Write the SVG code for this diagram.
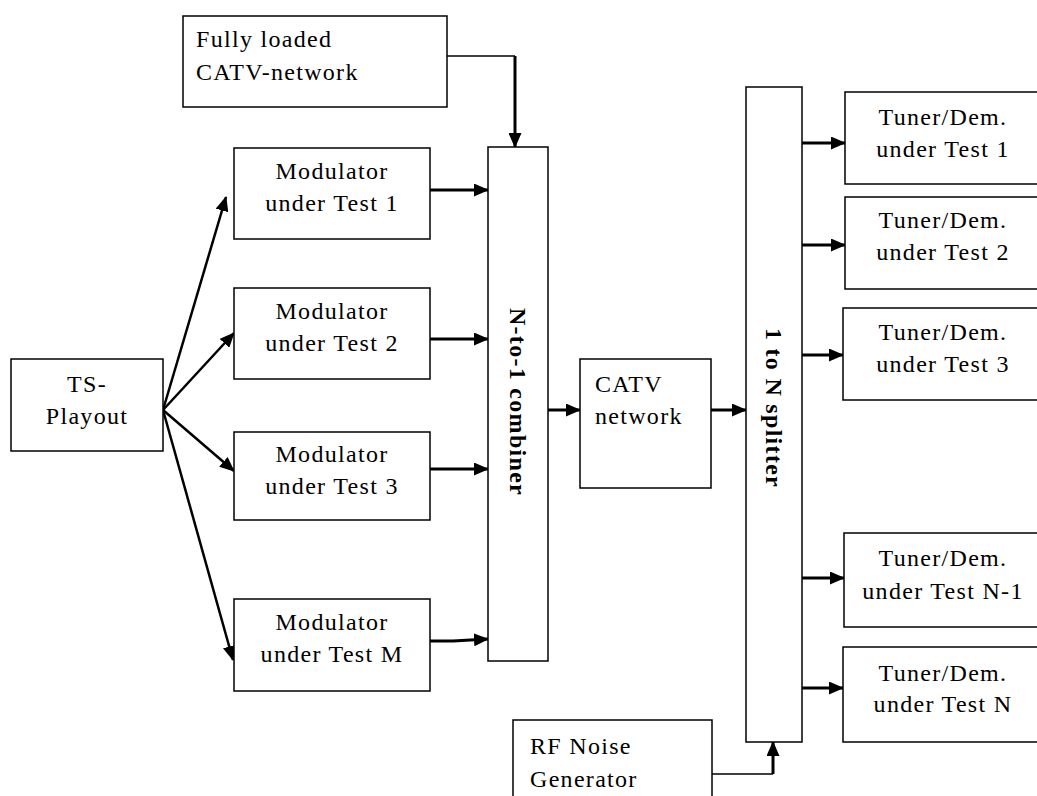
<svg xmlns="http://www.w3.org/2000/svg" width="1037" height="796" viewBox="0 0 1037 796">
<defs>
<style>
.box{fill:#fff;stroke:#000;stroke-width:1.5}
.t{font-family:"Liberation Serif","Times New Roman",serif;font-size:24px;letter-spacing:1.3px;fill:#000}
.c{text-anchor:middle}
.b{font-weight:bold}
.w{fill:none;stroke:#000;stroke-width:3}
.d{fill:none;stroke:#000;stroke-width:2.5}
.n{fill:none;stroke:#000;stroke-width:1.5}
</style>
<marker id="ah" markerUnits="userSpaceOnUse" markerWidth="15" markerHeight="13" refX="14" refY="6.5" orient="auto">
<path d="M0,0 L15,6.5 L0,13 z" fill="#000"/>
</marker>
</defs>
<rect width="1037" height="796" fill="#fff"/>
<g id="connectors">
<polyline class="n" points="447,56 515,56"/>
<polyline class="w" points="515,56 515,147" marker-end="url(#ah)"/>
<line class="d" x1="163" y1="410" x2="226" y2="197" marker-end="url(#ah)"/>
<line class="d" x1="163" y1="410" x2="234" y2="333" marker-end="url(#ah)"/>
<line class="d" x1="163" y1="410" x2="234" y2="471" marker-end="url(#ah)"/>
<line class="d" x1="163" y1="410" x2="233" y2="660" marker-end="url(#ah)"/>
<line class="w" x1="430" y1="190" x2="488" y2="190" marker-end="url(#ah)"/>
<line class="w" x1="430" y1="339" x2="488" y2="339" marker-end="url(#ah)"/>
<line class="w" x1="430" y1="469" x2="488" y2="469" marker-end="url(#ah)"/>
<polyline class="w" points="430,641 453,641 488,639" marker-end="url(#ah)"/>
<line class="w" x1="548" y1="410" x2="580" y2="410" marker-end="url(#ah)"/>
<line class="w" x1="711" y1="410" x2="746" y2="410" marker-end="url(#ah)"/>
<line class="w" x1="802" y1="143" x2="845" y2="143" marker-end="url(#ah)"/>
<line class="w" x1="802" y1="245" x2="845" y2="245" marker-end="url(#ah)"/>
<line class="w" x1="802" y1="355" x2="843" y2="355" marker-end="url(#ah)"/>
<line class="w" x1="802" y1="578" x2="844" y2="578" marker-end="url(#ah)"/>
<line class="w" x1="802" y1="688" x2="843" y2="688" marker-end="url(#ah)"/>
<polyline class="n" points="712,774 773,774"/>
<polyline class="w" points="773,774 773,742" marker-end="url(#ah)"/>
</g>
<g id="fully-loaded">
<rect class="box" x="183" y="16" width="264" height="91"/>
<text class="t" x="196" y="47">Fully loaded</text>
<text class="t" x="196" y="80">CATV-network</text>
</g>
<g id="ts-playout">
<rect class="box" x="11" y="359" width="152" height="92"/>
<text class="t c" x="87" y="392">TS-</text>
<text class="t c" x="87" y="424">Playout</text>
</g>
<g id="mod1">
<rect class="box" x="234" y="148" width="196" height="91"/>
<text class="t c" x="332" y="179">Modulator</text>
<text class="t c" x="332" y="211">under Test 1</text>
</g>
<g id="mod2">
<rect class="box" x="234" y="288" width="196" height="91"/>
<text class="t c" x="332" y="319">Modulator</text>
<text class="t c" x="332" y="351">under Test 2</text>
</g>
<g id="mod3">
<rect class="box" x="234" y="432" width="196" height="88"/>
<text class="t c" x="332" y="462">Modulator</text>
<text class="t c" x="332" y="494">under Test 3</text>
</g>
<g id="modM">
<rect class="box" x="234" y="599" width="196" height="92"/>
<text class="t c" x="332" y="630">Modulator</text>
<text class="t c" x="332" y="662">under Test M</text>
</g>
<g id="combiner">
<rect class="box" x="488" y="147" width="60" height="514"/>
<text class="t b c" transform="translate(510,402) rotate(90)">N-to-1 combiner</text>
</g>
<g id="catv">
<rect class="box" x="580" y="359" width="131" height="129"/>
<text class="t" x="595" y="392">CATV</text>
<text class="t" x="595" y="424">network</text>
</g>
<g id="splitter">
<rect class="box" x="746" y="87" width="56" height="655"/>
<text class="t b c" transform="translate(766,408) rotate(90)">1 to N splitter</text>
</g>
<g id="tuner1">
<rect class="box" x="845" y="92" width="200" height="92"/>
<text class="t c" x="943" y="125">Tuner/Dem.</text>
<text class="t c" x="943" y="157">under Test 1</text>
</g>
<g id="tuner2">
<rect class="box" x="845" y="197" width="200" height="92"/>
<text class="t c" x="943" y="228">Tuner/Dem.</text>
<text class="t c" x="943" y="260">under Test 2</text>
</g>
<g id="tuner3">
<rect class="box" x="843" y="308" width="202" height="92"/>
<text class="t c" x="943" y="340">Tuner/Dem.</text>
<text class="t c" x="943" y="372">under Test 3</text>
</g>
<g id="tunerN-1">
<rect class="box" x="844" y="533" width="201" height="94"/>
<text class="t c" x="943" y="566">Tuner/Dem.</text>
<text class="t c" x="943" y="599">under Test N-1</text>
</g>
<g id="tunerN">
<rect class="box" x="843" y="647" width="202" height="95"/>
<text class="t c" x="943" y="681">Tuner/Dem.</text>
<text class="t c" x="943" y="712">under Test N</text>
</g>
<g id="rf-noise">
<rect class="box" x="513" y="720" width="199" height="90"/>
<text class="t" x="530" y="754">RF Noise</text>
<text class="t" x="530" y="787">Generator</text>
</g>
</svg>
